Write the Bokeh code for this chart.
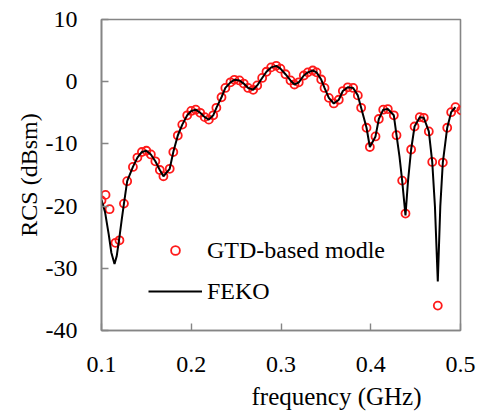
from bokeh.plotting import figure
from bokeh.models import Range1d, FixedTicker, Legend, LegendItem, Title
from bokeh.embed import file_html
from bokeh.resources import INLINE

# GTD-based model samples (frequency GHz, RCS dBsm)
gtd_freq = [0.100, 0.1045, 0.109, 0.1156, 0.120, 0.125, 0.1286, 0.135, 0.140, 0.145,
            0.150, 0.155, 0.160, 0.165, 0.169, 0.176, 0.180, 0.185, 0.190, 0.1955,
            0.200, 0.205, 0.210, 0.215, 0.2196, 0.2245, 0.228, 0.2337, 0.238, 0.2437,
            0.248, 0.2537, 0.2585, 0.2634, 0.269, 0.2735, 0.279, 0.2838, 0.289, 0.2947,
            0.2994, 0.305, 0.3106, 0.315, 0.3198, 0.3254, 0.3299, 0.3354, 0.3396, 0.3448,
            0.3485, 0.3533, 0.3588, 0.3644, 0.3689, 0.3744, 0.3804, 0.3856, 0.3893, 0.3953,
            0.399, 0.4053, 0.409, 0.4139, 0.419, 0.4257, 0.4287, 0.435, 0.4387, 0.445,
            0.4488, 0.4546, 0.4591, 0.4647, 0.4685, 0.4747, 0.4803, 0.4852, 0.4896, 0.4944,
            0.5008]
gtd_rcs = [-19.1, -18.2, -20.5, -25.9, -25.5, -19.6, -16.0, -13.7, -12.2, -11.3,
           -11.1, -11.7, -12.8, -14.2, -15.2, -14.0, -11.3, -8.65, -6.9, -5.4,
           -4.7, -4.5, -5.0, -5.7, -6.1, -5.4, -4.2, -2.5, -1.0, -0.1,
           0.3, 0.2, -0.3, -1.0, -1.3, -0.6, 0.6, 1.6, 2.3, 2.55,
           2.1, 1.2, 0.2, -0.45, -0.1, 1.0, 1.5, 1.8, 1.5, 0.35,
           -1.0, -2.6, -3.5, -2.9, -1.5, -0.9, -1.0, -2.2, -4.2, -7.4,
           -10.5, -8.8, -6.0, -4.5, -4.4, -5.4, -8.6, -15.9, -21.2, -10.9,
           -7.2, -5.7, -5.8, -8.0, -12.9, -36.0, -13.0, -7.4, -4.9, -4.1,
           -4.6]

# FEKO reference curve
feko_freq = [0.100, 0.104, 0.108, 0.111, 0.1145, 0.117, 0.120, 0.1225, 0.125, 0.1286,
             0.135, 0.140, 0.145, 0.150, 0.155, 0.160, 0.165, 0.169, 0.176, 0.180,
             0.185, 0.190, 0.1955, 0.200, 0.205, 0.210, 0.215, 0.2196, 0.2245, 0.228,
             0.2337, 0.238, 0.2437, 0.248, 0.2537, 0.2585, 0.2634, 0.269, 0.2735, 0.279,
             0.2838, 0.289, 0.2947, 0.2994, 0.305, 0.3106, 0.315, 0.3198, 0.3254, 0.3299,
             0.3354, 0.3396, 0.3448, 0.3485, 0.3533, 0.3588, 0.3644, 0.3689, 0.3744, 0.3804,
             0.3856, 0.3893, 0.3953, 0.399, 0.4053, 0.409, 0.4139, 0.419, 0.4257, 0.4287,
             0.432, 0.435, 0.4387, 0.4415, 0.445, 0.4488, 0.4546, 0.4591, 0.4647, 0.4685,
             0.4715, 0.4747, 0.4775, 0.4803, 0.4852, 0.4896, 0.4944]
feko_rcs = [-19.0, -21.0, -24.5, -27.5, -29.3, -28.0, -25.0, -22.2, -19.6, -16.0,
            -13.7, -12.2, -11.3, -11.1, -11.7, -12.8, -14.2, -15.2, -14.0, -11.3,
            -8.65, -6.9, -5.4, -4.7, -4.5, -5.0, -5.7, -6.1, -5.4, -4.2,
            -2.5, -1.0, -0.1, 0.3, 0.2, -0.3, -1.0, -1.3, -0.6, 0.6,
            1.6, 2.3, 2.55, 2.1, 1.2, 0.2, -0.45, -0.1, 1.0, 1.5,
            1.8, 1.5, 0.35, -1.0, -2.6, -3.5, -2.9, -1.5, -0.9, -1.0,
            -2.2, -4.2, -7.4, -10.5, -8.8, -6.0, -4.5, -4.4, -5.4, -8.6,
            -12.0, -15.9, -21.5, -16.0, -10.9, -7.2, -5.7, -5.8, -8.0, -12.9,
            -20.0, -32.1, -20.0, -13.0, -7.4, -4.9, -4.1]

x_ticks = [0.1, 0.2, 0.3, 0.4, 0.5]
x_tick_labels = ["0.1", "0.2", "0.3", "0.4", "0.5"]
y_ticks = [-40, -30, -20, -10, 0, 10]
y_tick_labels = ["-40", "-30", "-20", "-10", "0", "10"]

FONT = "'Liberation Serif', 'Times New Roman', serif"
AXIS_GRAY = "#858585"

W, H = 481, 416
p = figure(width=W, height=H, output_backend="svg", toolbar_location=None,
           x_range=Range1d(0.1, 0.5), y_range=Range1d(-40, 10),
           min_border_left=101, min_border_right=21, min_border_top=19,
           min_border_bottom=86)
p.xgrid.visible = False
p.ygrid.visible = False
p.outline_line_color = AXIS_GRAY
p.outline_line_width = 1.6
p.background_fill_color = "white"
p.border_fill_color = "white"

for ax, ticks, labels in ((p.xaxis[0], x_ticks, x_tick_labels), (p.yaxis[0], y_ticks, y_tick_labels)):
    ax.ticker = FixedTicker(ticks=ticks)
    ax.major_label_overrides = {t: l for t, l in zip(ticks, labels)}
    ax.axis_line_color = AXIS_GRAY
    ax.axis_line_width = 1.6
    ax.major_tick_line_color = AXIS_GRAY
    ax.major_tick_line_width = 1.4
    ax.major_tick_in = 7
    ax.major_tick_out = 0
    ax.minor_tick_line_color = None
    ax.major_label_text_font = FONT
    ax.major_label_text_font_size = "24px"
    ax.major_label_text_color = "black"
    ax.axis_label_text_font = FONT
    ax.axis_label_text_font_size = "24px"
    ax.axis_label_text_font_style = "normal"
    ax.axis_label_text_color = "black"

p.xaxis.major_label_standoff = 26
p.yaxis.major_label_standoff = 24
p.yaxis.axis_label = "RCS (dBsm)"
p.yaxis.axis_label_standoff = 1

r_gtd = p.scatter(gtd_freq, gtd_rcs, marker="circle", size=8, fill_color=None,
                  line_color="#ff1a1a", line_width=1.8)
r_feko = p.line(feko_freq, feko_rcs, line_color="black", line_width=2)

legend = Legend(items=[LegendItem(label="GTD-based modle", renderers=[r_gtd]),
                       LegendItem(label="FEKO", renderers=[r_feko])],
                location=(47, 21), orientation="vertical",
                glyph_width=54, glyph_height=22, label_height=36,
                label_standoff=5, spacing=5, padding=0, margin=0,
                label_text_font=FONT, label_text_font_size="24px",
                label_text_color="black",
                background_fill_alpha=0, border_line_alpha=0)
p.add_layout(legend, "center")

xtitle = Title(text="frequency (GHz)", align="left", offset=150, standoff=12,
               text_font=FONT, text_font_size="25px", text_font_style="normal",
               text_color="black")
p.add_layout(xtitle, "below")

open("out.html", "w").write(file_html(p, INLINE))
